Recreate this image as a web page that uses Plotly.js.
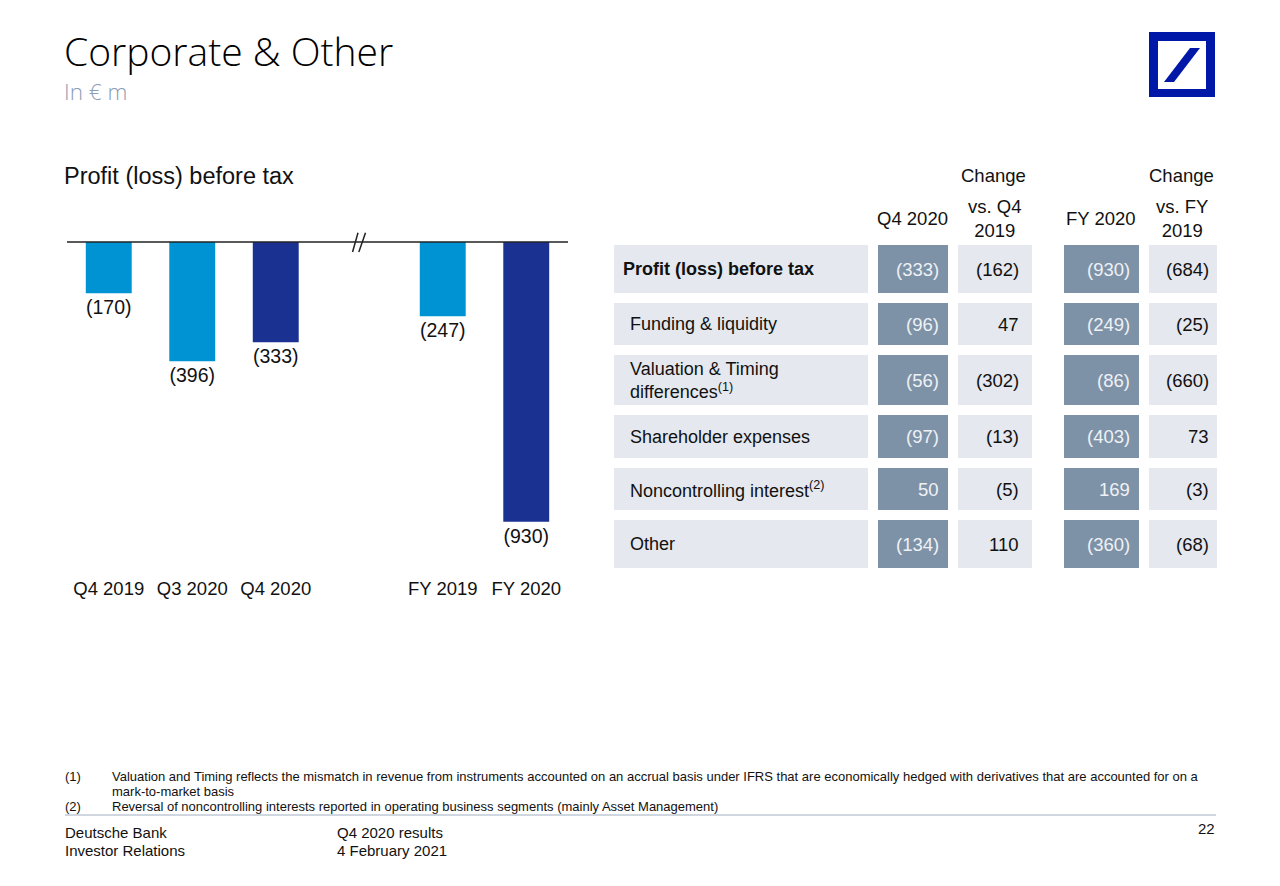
<!DOCTYPE html>
<html><head><meta charset="utf-8">
<script src="https://cdn.plot.ly/plotly-3.0.1.min.js"></script>
<style>html,body{margin:0;padding:0;background:#fff}</style>
</head><body><div id="chart" style="width:1280px;height:886px"></div>
<script>
// ---------- DATA ----------
const categories = ["Q4 2019", "Q3 2020", "Q4 2020", "FY 2019", "FY 2020"];
const profitBeforeTax = [-170, -396, -333, -247, -930];

const rowLabels = [
  "Profit (loss) before tax",
  "Funding & liquidity",
  "Valuation & Timing<br>differences<sup>(1)</sup>",
  "Shareholder expenses",
  "Noncontrolling interest<sup>(2)</sup>",
  "Other"
];
const q4_2020 = [-333, -96, -56, -97, 50, -134];
const changeVsQ4_2019 = [-162, 47, -302, -13, -5, 110];
const fy2020 = [-930, -249, -86, -403, 169, -360];
const changeVsFY2019 = [-684, -25, -660, 73, -3, -68];
const headerTop = ["", "", "Change", "", "", "Change"];
const headerMain = ["", "Q4 2020", "vs. Q4<br>2019", "", "FY 2020", "vs. FY<br>2019"];

// ---------- STYLE / LAYOUT ----------
const W = 1280, H = 886;
const px = x => x / W, py = y => 1 - y / H;
const FONT = "Liberation Sans, Arial, sans-serif";
const TXT = "#111111";
const LIGHT = "#0093D3", DARK = "#1B3192";
const highlighted = ["Q4 2020", "FY 2020"];
const CELL_GRAY = "#E5E8EE", CELL_STEEL = "#7E92A7";
const fmt = v => v < 0 ? "(" + (-v) + ")" : String(v);

// table geometry (axis units)
const colWidths = [264, 80, 84, 22, 85, 78];
const rowHeights = [58, 52, 60, 53, 52, 58];
const colKind = [1, 2, 1, 0, 2, 1];   // 0 blank, 1 gray, 2 steel
const cum = a => a.reduce((acc, v) => { acc.push(acc[acc.length - 1] + v); return acc; }, [0]);
const xEdges = cum(colWidths), yEdges = cum(rowHeights);
const totalW = xEdges[xEdges.length - 1], totalH = yEdges[yEdges.length - 1];

const valueCols = [
  {col: 1, vals: q4_2020, color: "#EEF1F5", pad: 12},
  {col: 2, vals: changeVsQ4_2019, color: TXT, pad: 16},
  {col: 4, vals: fy2020, color: "#EEF1F5", pad: 12},
  {col: 5, vals: changeVsFY2019, color: TXT, pad: 11}
];

// ---------- TRACES ----------
const bars = {
  type: "bar",
  x: categories,
  y: profitBeforeTax,
  text: profitBeforeTax.map(fmt),
  textposition: "outside",
  cliponaxis: false,
  textfont: {family: FONT, size: 19.5, color: TXT},
  marker: {color: categories.map(c => highlighted.includes(c) ? DARK : LIGHT)},
  hoverinfo: "skip",
  xaxis: "x", yaxis: "y"
};

const cells = {
  type: "heatmap",
  x: xEdges,
  y: yEdges,
  z: rowLabels.map(() => colKind.slice()),
  zmin: 0, zmax: 2,
  colorscale: [[0, "#FFFFFF"], [0.5, CELL_GRAY], [1, CELL_STEEL]],
  showscale: false,
  xgap: 10, ygap: 10,
  hoverinfo: "skip",
  xaxis: "x2", yaxis: "y2"
};

// ---------- ANNOTATIONS ----------
const ann = [];
const A = (o) => ann.push(Object.assign({showarrow: false, xref: "paper", yref: "paper"}, o));

A({x: px(62), y: py(50), xanchor: "left", yanchor: "middle", text: "Corporate & Other",
   font: {family: "Open Sans, sans-serif", size: 39, color: "#000", weight: 300}});
A({x: px(62), y: py(91), xanchor: "left", yanchor: "middle", text: "In € m",
   font: {family: "Open Sans, sans-serif", size: 22.5, color: "#8C9CB5", weight: 300}});
A({x: px(62), y: py(176), xanchor: "left", yanchor: "middle", text: "Profit (loss) before tax",
   font: {family: FONT, size: 23.5, color: TXT}});

// table headers
for (let c = 0; c < colWidths.length; c++) {
  const cx = (xEdges[c] + xEdges[c + 1]) / 2;
  if (headerTop[c]) ann.push({showarrow: false, xref: "x2", yref: "paper", x: cx - 2, y: py(176),
    xanchor: "center", yanchor: "middle", text: headerTop[c], font: {family: FONT, size: 18.5, color: TXT}});
  if (headerMain[c]) ann.push({showarrow: false, xref: "x2", yref: "paper", x: cx - 1, y: py(218),
    xanchor: "center", yanchor: "middle", text: headerMain[c], align: "center",
    font: {family: FONT, size: 18.5, color: TXT}});
}
// table cell texts
rowLabels.forEach((lab, r) => {
  const cy = (yEdges[r] + yEdges[r + 1]) / 2;
  ann.push({showarrow: false, xref: "x2", yref: "y2", x: xEdges[0] + (r === 0 ? 12 : 19), y: cy,
    xanchor: "left", yanchor: "middle", align: "left", text: lab,
    font: {family: FONT, size: 18, color: TXT, weight: r === 0 ? "bold" : "normal"}});
  valueCols.forEach(vc => {
    ann.push({showarrow: false, xref: "x2", yref: "y2", x: xEdges[vc.col + 1] - vc.pad, y: cy,
      xanchor: "right", yanchor: "middle", text: fmt(vc.vals[r]),
      font: {family: FONT, size: 18.5, color: vc.color}});
  });
});

// footnotes & footer
const small = {family: FONT, size: 13, color: TXT};
A({x: px(63), y: py(776), xanchor: "left", yanchor: "middle", text: "(1)", font: small});
A({x: px(110), y: py(776), xanchor: "left", yanchor: "middle", text: "Valuation and Timing reflects the mismatch in revenue from instruments accounted on an accrual basis under IFRS that are economically hedged with derivatives that are accounted for on a", font: small});
A({x: px(110), y: py(791), xanchor: "left", yanchor: "middle", text: "mark-to-market basis", font: small});
A({x: px(63), y: py(806), xanchor: "left", yanchor: "middle", text: "(2)", font: small});
A({x: px(110), y: py(806), xanchor: "left", yanchor: "middle", text: "Reversal of noncontrolling interests reported in operating business segments (mainly Asset Management)", font: small});
const foot = {family: FONT, size: 15, color: TXT};
A({x: px(63), y: py(832), xanchor: "left", yanchor: "middle", text: "Deutsche Bank", font: foot});
A({x: px(63), y: py(850), xanchor: "left", yanchor: "middle", text: "Investor Relations", font: foot});
A({x: px(335), y: py(832), xanchor: "left", yanchor: "middle", text: "Q4 2020 results", font: foot});
A({x: px(335), y: py(850), xanchor: "left", yanchor: "middle", text: "4 February 2021", font: foot});
A({x: px(1217), y: py(828), xanchor: "right", yanchor: "middle", text: "22", font: foot});

// ---------- SHAPES ----------
const LOGO = "#0018A8";
const shapes = [
  // baseline and axis break
  {type: "line", xref: "x", yref: "y", x0: -0.5, x1: 5.5, y0: 0, y1: 0, line: {color: "#222", width: 1.5}},
  {type: "line", xref: "x", yref: "y", x0: 2.92, x1: 2.985, y0: -33, y1: 31, line: {color: "#222", width: 1.5}},
  {type: "line", xref: "x", yref: "y", x0: 2.995, x1: 3.075, y0: -33, y1: 31, line: {color: "#222", width: 1.5}},
  // footer rule
  {type: "line", xref: "paper", yref: "paper", x0: px(65), x1: px(1216), y0: py(815), y1: py(815), line: {color: "#9FAEC2", width: 1}},
  // logo
  {type: "rect", xref: "paper", yref: "paper", x0: px(1149), x1: px(1215), y0: py(97), y1: py(32), fillcolor: LOGO, line: {width: 0}},
  {type: "rect", xref: "paper", yref: "paper", x0: px(1158), x1: px(1206), y0: py(89), y1: py(41), fillcolor: "#fff", line: {width: 0}},
  {type: "path", xref: "paper", yref: "paper", fillcolor: LOGO, line: {width: 0},
   path: `M ${px(1164)} ${py(82)} L ${px(1174)} ${py(82)} L ${px(1200)} ${py(48)} L ${px(1190)} ${py(48)} Z`}
];

const layout = {
  width: W, height: H,
  margin: {l: 0, r: 0, t: 0, b: 0},
  paper_bgcolor: "#fff", plot_bgcolor: "rgba(0,0,0,0)",
  showlegend: false,
  bargap: 0.45,
  font: {family: FONT, color: TXT},
  xaxis: {domain: [px(67), px(568)], type: "category", categoryorder: "array",
          categoryarray: ["Q4 2019", "Q3 2020", "Q4 2020", " ", "FY 2019", "FY 2020"],
          tickmode: "array", tickvals: categories, ticktext: categories,
          range: [-0.5, 5.5], showgrid: false, zeroline: false, showline: false, ticks: "",
          ticklabelstandoff: 5,
          tickfont: {family: FONT, size: 18.5, color: TXT}, fixedrange: true},
  yaxis: {domain: [py(570), py(227)], range: [-1090, 50], visible: false, showgrid: false, zeroline: false, fixedrange: true},
  xaxis2: {domain: [px(609), px(609 + totalW)], range: [0, totalW], visible: false, showgrid: false, zeroline: false, anchor: "y2", fixedrange: true},
  yaxis2: {domain: [py(240 + totalH), py(240)], range: [totalH, 0], visible: false, showgrid: false, zeroline: false, anchor: "x2", fixedrange: true},
  annotations: ann,
  shapes: shapes
};

Plotly.newPlot("chart", [bars, cells], layout, {displayModeBar: false, staticPlot: true});
</script></body></html>
